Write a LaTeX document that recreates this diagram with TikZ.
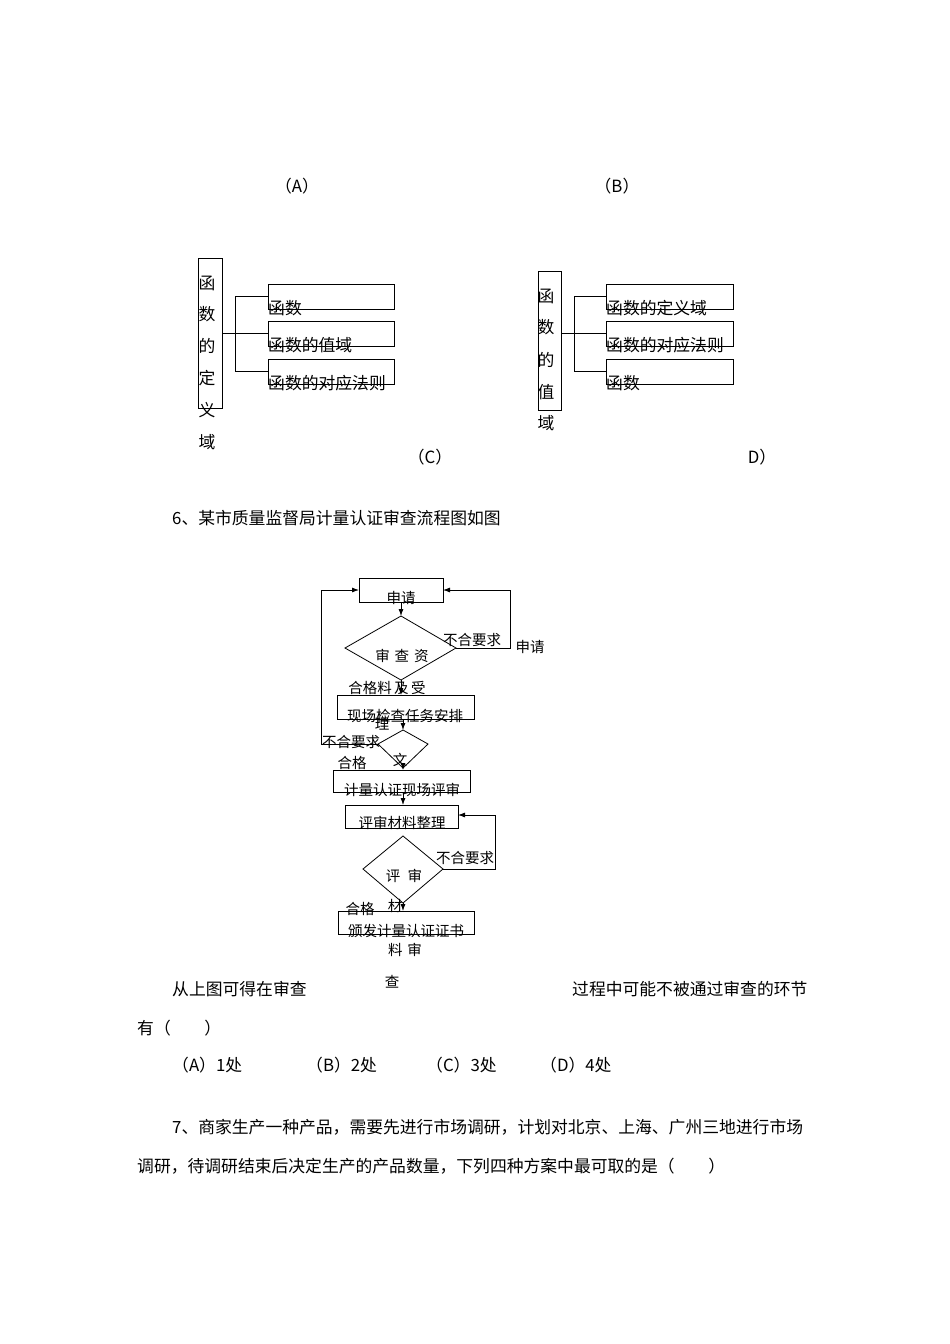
\documentclass[tikz,border=0pt]{standalone}
\usepackage{fontspec}
\setmainfont{Noto Sans CJK SC}
\usetikzlibrary{arrows.meta}
\begin{document}
\begin{tikzpicture}[x=1pt,y=-1pt,
  t/.style={inner sep=0pt,font=\fontsize{16.8}{17}\selectfont},
  s/.style={inner sep=0pt,font=\fontsize{14.5}{15}\selectfont},
  bx/.style={draw,line width=0.8pt},
  ln/.style={line width=0.8pt},
  ar/.style={line width=0.8pt,-{Latex[length=7pt,width=5pt]}}]
\useasboundingbox[fill=white] (0,0) rectangle (950,1344);
\node[t] (la) at (297,186) {（A）};
\node[t] (lb) at (617,186) {（B）};
% C diagram
\draw[bx] (198,258) rectangle (222,408);
\foreach \c/\y in {函/283,数/314,的/346,定/378,义/410,域/442}{\node[t] at (207,\y) {\c};}
\draw[ln] (222,333) -- (235,333) (235,296) -- (235,371);
\foreach \y in {296,333,371}{\draw[ln] (235,\y) -- (268,\y);}
\draw[bx] (268,284) rectangle (394,309);
\draw[bx] (268,321) rectangle (394,346);
\draw[bx] (268,359) rectangle (394,384);
\node[t,anchor=west] at (268,308) {函数};
\node[t,anchor=west] at (268,345) {函数的值域};
\node[t,anchor=west] at (268,383) {函数的对应法则};
% D diagram
\draw[bx] (538,271) rectangle (561,410);
\foreach \c/\y in {函/296,数/327,的/360,值/392,域/423}{\node[t] at (546,\y) {\c};}
\draw[ln] (561,333) -- (574,333) (574,296) -- (574,371);
\foreach \y in {296,333,371}{\draw[ln] (574,\y) -- (606,\y);}
\draw[bx] (606,284) rectangle (733,309);
\draw[bx] (606,321) rectangle (733,346);
\draw[bx] (606,359) rectangle (733,384);
\node[t,anchor=west] at (606,308) {函数的定义域};
\node[t,anchor=west] at (606,345) {函数的对应法则};
\node[t,anchor=west] at (606,383) {函数};
\node[t] (lc) at (430,457) {（C）};
\node[t] (ld) at (762,457) {D）};
\node[t,anchor=west] (q6) at (172,518) {6、某市质量监督局计量认证审查流程图如图};
% flowchart
\draw[bx] (359,578) rectangle (443,602);
\node[s] (sq) at (401,598) {申请};
\draw[ln] (401,616) -- (456,648) -- (401,680) -- (345,648) -- cycle;
\node[s] at (402,656) {审\,\,查\,\,资};
\draw[ar] (401,602) -- (401,616);
\draw[ar] (456,648) -- (510,648) -- (510,590) -- (443,590);
\node[s] at (472,640) {不合要求};
\node[s] at (530,647) {申请};
\draw[bx] (337,695) rectangle (474,719);
\node[s] at (405,716) {现场检查任务安排};
\draw[ar] (401,680) -- (401,695);
\node[s] at (387,688) {合格料\,及\,受};
\node[s] at (382,724) {理};
\draw[ln] (403,730) -- (428,744) -- (403,768) -- (378,744) -- cycle;
\draw[ar] (403,719) -- (403,730);
\draw[ar] (378,744) -- (321,744) -- (321,590) -- (359,590);
\node[s] at (351,742) {不合要求};
\node[s] at (400,760) {文};
\node[s] at (352,763) {合格};
\draw[bx] (333,770) rectangle (470,792);
\node[s] at (402,790) {计量认证现场评审};
\draw[ar] (403,768) -- (403,770);
\draw[bx] (345,805) rectangle (458,828);
\node[s] at (402,823) {评审材料整理};
\draw[ar] (403,792) -- (403,805);
\draw[ln] (403,836) -- (443,869) -- (403,903) -- (363,869) -- cycle;
\draw[ar] (443,869) -- (495,869) -- (495,815) -- (458,815);
\node[s] at (465,858) {不合要求};
\node[s] at (404,876) {评\,\,\,审};
\draw[bx] (338,911) rectangle (474,934);
\node[s] at (406,931) {颁发计量认证证书};
\draw[ar] (403,903) -- (403,911);
\node[s] at (360,909) {合格};
\node[s] at (395,906) {材};
\node[s] at (405,950) {料\,\,审};
\node[s] at (392,982) {查};
% text
\node[t,anchor=west] at (172,989) {从上图可得在审查};
\node[t,anchor=west] at (572,989) {过程中可能不被通过审查的环节};
\node[t,anchor=west] at (137,1028) {有（\quad\quad）};
\node[t,anchor=west] at (172,1065) {（A）1处};
\node[t,anchor=west] at (306,1065) {（B）2处};
\node[t,anchor=west] at (426,1065) {（C）3处};
\node[t,anchor=west] at (540,1065) {（D）4处};
\node[t,anchor=west] at (172,1127) {7、商家生产一种产品，需要先进行市场调研，计划对北京、上海、广州三地进行市场};
\node[t,anchor=west] at (137,1166) {调研，待调研结束后决定生产的产品数量，下列四种方案中最可取的是（\quad\quad）};
\end{tikzpicture}
\end{document}
